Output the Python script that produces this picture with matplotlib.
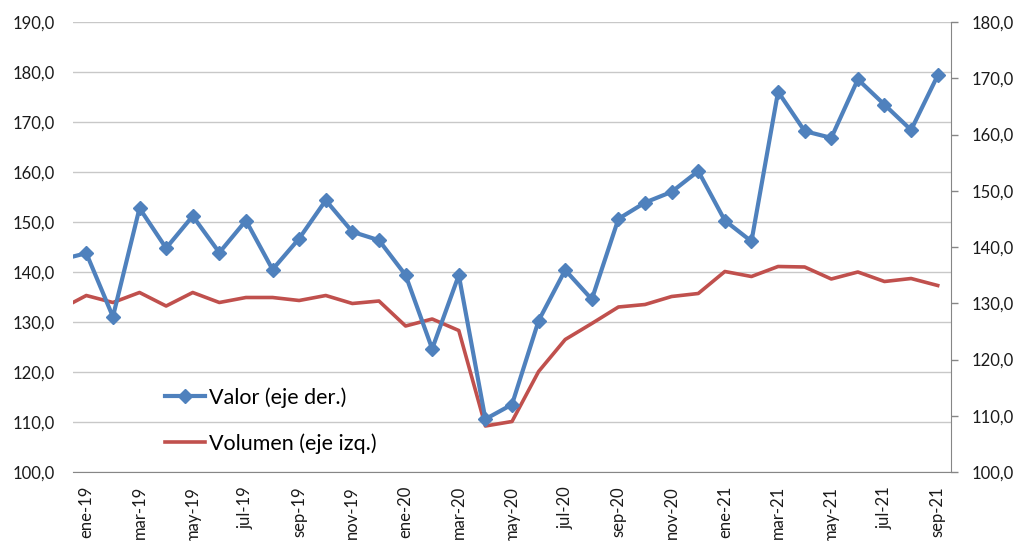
import matplotlib.pyplot as plt
import numpy as np

plt.rcParams['font.family'] = ['Lato', 'DejaVu Sans']

# first month (dic-18) sits outside the visible range, only its segment shows
meses = ['dic-18',
         'ene-19', 'feb-19', 'mar-19', 'abr-19', 'may-19', 'jun-19', 'jul-19', 'ago-19',
         'sep-19', 'oct-19', 'nov-19', 'dic-19',
         'ene-20', 'feb-20', 'mar-20', 'abr-20', 'may-20', 'jun-20', 'jul-20', 'ago-20',
         'sep-20', 'oct-20', 'nov-20', 'dic-20',
         'ene-21', 'feb-21', 'mar-21', 'abr-21', 'may-21', 'jun-21', 'jul-21', 'ago-21',
         'sep-21']

valor = [137.7,
         138.9, 127.6, 146.9, 139.8, 145.5, 139.0, 144.7, 136.0,
         141.5, 148.3, 142.7, 141.2,
         135.0, 121.9, 135.0, 109.4, 112.0, 126.9, 135.9, 130.7,
         145.0, 147.9, 149.8, 153.5,
         144.7, 141.0, 167.6, 160.6, 159.4, 169.8, 165.3, 160.8,
         170.5]

volumen = [132.5,
           135.3, 133.9, 135.9, 133.2, 135.9, 133.9, 134.9, 134.9,
           134.3, 135.3, 133.7, 134.2,
           129.2, 130.6, 128.3, 109.2, 110.1, 120.1, 126.5, 129.7,
           133.0, 133.5, 135.1, 135.7,
           140.1, 139.1, 141.1, 141.0, 138.6, 140.0, 138.1, 138.7,
           137.3]

azul = '#4F81BD'
rojo = '#C0504D'
gris = '#868686'

fig = plt.figure(figsize=(10.17, 5.41), dpi=100)
ax = fig.add_axes([73/1017, 1 - 472/541, (951-73)/1017, (472-22)/541])
ax2 = ax.twinx()

l_vol, = ax.plot(meses, volumen, color=rojo, lw=2.6, label='Volumen (eje izq.)')
l_val, = ax2.plot(meses, valor, color=azul, lw=3, marker='D', markersize=7.5,
                  label='Valor (eje der.)')

ax.set_xlim(0.5, len(meses) - 0.5)
ax.set_ylim(100, 190)
ax.set_yticks(np.arange(100, 191, 10))
ax.yaxis.set_major_formatter(lambda v, p: f'{v:.1f}'.replace('.', ','))
ax.grid(axis='y', color='#C8C8C8', lw=1)
ax.set_axisbelow(True)

ax2.set_ylim(100, 180)
ax2.set_yticks(np.arange(100, 181, 10))
ax2.yaxis.set_major_formatter(lambda v, p: f'{v:.1f}'.replace('.', ','))

ax.set_xticks(meses[1::2])
ax.tick_params(axis='x', length=0, pad=10, labelrotation=90, labelsize=12, colors='#1a1a1a')
ax.tick_params(axis='y', length=0, pad=13, labelsize=12, colors='#1a1a1a')
ax2.tick_params(axis='y', length=5, width=1, color=gris, pad=10, labelsize=12,
                labelcolor='#1a1a1a')

for a in (ax, ax2):
    for s in ('top', 'left'):
        a.spines[s].set_visible(False)
    a.spines['bottom'].set_color(gris)
    a.spines['right'].set_color(gris)
ax.spines['right'].set_visible(False)
ax2.spines['bottom'].set_visible(False)

ax2.legend([l_val, l_vol], ['Valor (eje der.)', 'Volumen (eje izq.)'],
           loc='upper left', bbox_to_anchor=(165/1017, 1 - 387/541),
           bbox_transform=fig.transFigure, frameon=False, fontsize=15.5,
           handlelength=1.85, handletextpad=0.2, labelspacing=1.2,
           borderpad=0, borderaxespad=0)

fig.savefig('out.png', dpi=100)
